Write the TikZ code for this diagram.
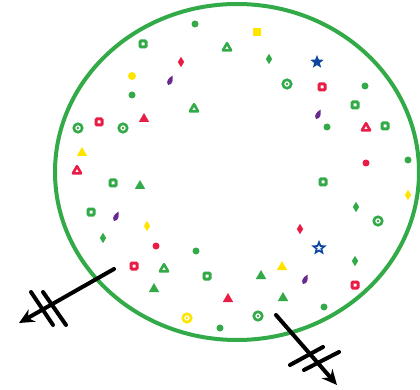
\documentclass[tikz,border=0pt]{standalone}
\usepackage{tikz}
\usetikzlibrary{arrows.meta,shapes.geometric}
\definecolor{tgreen}{RGB}{50,170,72}
\definecolor{tred}{RGB}{232,28,68}
\definecolor{tyellow}{RGB}{255,228,0}
\definecolor{tblue}{RGB}{14,70,160}
\definecolor{tpurple}{RGB}{104,40,140}

\begin{document}
\begin{tikzpicture}[x=1pt,y=-1pt,
  dotty/.style={circle, fill=#1, inner sep=0pt, minimum size=7pt},
  ring/.style={circle, draw=#1, line width=2.6pt, inner sep=0pt, minimum size=8.5pt,
    path picture={\fill[#1] (path picture bounding box.center) circle (1.4pt);}},
  box/.style={rectangle, draw=#1, line width=3pt, rounded corners=1pt, inner sep=0pt, minimum size=6pt},
  trio/.style={regular polygon, regular polygon sides=3, draw=#1, line width=2.6pt, line join=round, inner sep=0pt, minimum size=9.5pt},
  tri/.style={regular polygon, regular polygon sides=3, fill=#1, inner sep=0pt, minimum size=12pt},
  gem/.style={diamond, fill=#1, inner sep=0pt, minimum width=6.5pt, minimum height=10.5pt},
  starfull/.style={star, star points=5, star point ratio=2.3, fill=tblue, inner sep=0pt, minimum size=14pt},
  starline/.style={star, star points=5, star point ratio=2.3, draw=tblue, fill=white, line width=1.7pt, inner sep=0pt, minimum size=11.5pt},
  arr/.style={line width=4pt, line cap=round, -{Stealth[length=15pt,width=14pt]}},
  hash/.style={line width=4pt, line cap=round}]
  \useasboundingbox (0,0) rectangle (420,390);
  % the rim
  \draw[tgreen, line width=4pt] (237,172) ellipse [x radius=182, y radius=168];
  % dots
  \foreach \x/\y [count=\i] in {195/24, 132/95, 365/86, 327/127, 408/160, 196/251, 324/307, 220/328}
    \node[dotty=tgreen] (gd\i) at (\x,\y) {};
  \foreach \x/\y [count=\i] in {366/163, 156/246}
    \node[dotty=tred] (rd\i) at (\x,\y) {};
  \node[dotty=tyellow, minimum size=8pt] (yd1) at (132,76) {};
  % rings
  \foreach \x/\y [count=\i] in {78/128, 123/128, 287/84, 378/221, 258/316}
    \node[ring=tgreen] (gr\i) at (\x,\y) {};
  \node[ring=tyellow] (yr1) at (187,318) {};
  % squares
  \foreach \x/\y [count=\i] in {143/44, 355/105, 385/126, 113/183, 91/212, 323/182, 207/276}
    \node[box=tgreen] (gb\i) at (\x,\y) {};
  \foreach \x/\y [count=\i] in {99/122, 322/87, 134/266, 355/285}
    \node[box=tred] (rb\i) at (\x,\y) {};
  \node[rectangle, fill=tyellow, inner sep=0pt, minimum size=7.5pt] (yb1) at (257,32) {};
  % triangles
  \foreach \x/\y [count=\i] in {227/48, 194/109, 164/269}
    \node[trio=tgreen] (gto\i) at (\x,\y) {};
  \foreach \x/\y [count=\i] in {366/128, 77/171}
    \node[trio=tred] (rto\i) at (\x,\y) {};
  \foreach \x/\y [count=\i] in {144/119, 228/299}
    \node[tri=tred] (rt\i) at (\x,\y) {};
  \foreach \x/\y [count=\i] in {140/186, 154/289, 261/276, 283/298}
    \node[tri=tgreen] (gt\i) at (\x,\y) {};
  \foreach \x/\y [count=\i] in {82/153, 282/267}
    \node[tri=tyellow] (yt\i) at (\x,\y) {};
  % diamonds
  \foreach \x/\y [count=\i] in {269/59, 103/238, 356/207, 355/261}
    \node[gem=tgreen] (gg\i) at (\x,\y) {};
  \foreach \x/\y [count=\i] in {181/62, 300/229}
    \node[gem=tred] (rg\i) at (\x,\y) {};
  \foreach \x/\y [count=\i] in {147/226, 408/195}
    \node[gem=tyellow] (yg\i) at (\x,\y) {};
  % drops
  \foreach \x/\y in {170/81, 318/115, 116/217, 305/280}
    \fill[tpurple, shift={(\x,\y)}, rotate=-25] (0,-6) .. controls (2.5,-2) and (4,2) .. (0,4.5) .. controls (-4,2) and (-2.5,-2) .. (0,-6);
  % stars
  \node[starfull] (bs1) at (317,62) {};
  \node[starline] (bs2) at (319,248) {};
  % arrows out
  \coordinate (outA) at (114,269);
  \coordinate (tipA) at (19,323);
  \coordinate (outB) at (276,315);
  \coordinate (tipB) at (337,385);
  \draw[arr] (outA) -- (tipA);
  \draw[arr] (outB) -- (tipB);
  \draw[hash] (31,292) -- (53,325);
  \draw[hash] (43,292) -- (66,325);
  \draw[hash] (290,365) -- (323,347);
  \draw[hash] (304,370) -- (339,352);
\end{tikzpicture}
\end{document}
